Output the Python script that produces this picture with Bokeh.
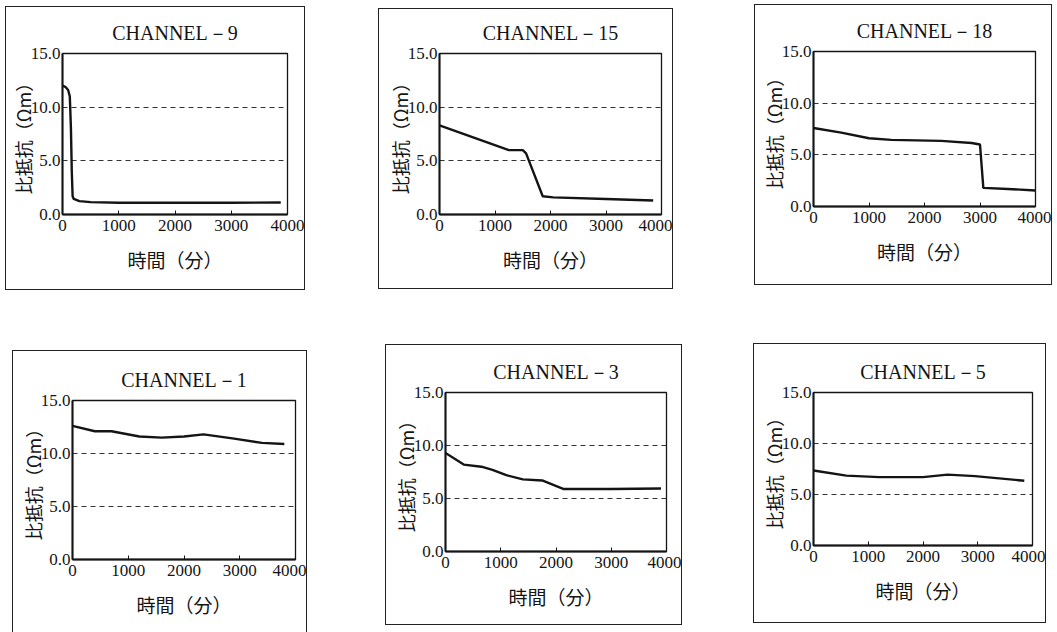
from bokeh.plotting import figure
from bokeh.layouts import row, column
from bokeh.models import Range1d, FixedTicker, NumeralTickFormatter, Spacer
from bokeh.embed import file_html
from bokeh.resources import INLINE

# Elapsed time (minutes) and resistivity (Ωm) for each channel
ch9_t = [0, 50, 100, 130, 150, 165, 180, 200, 300, 500, 1000, 2000, 3000, 3880]
ch9_v = [12.0, 11.9, 11.6, 11.0, 8.0, 4.0, 1.7, 1.45, 1.25, 1.15, 1.1, 1.1, 1.1, 1.12]

ch15_t = [0, 1250, 1500, 1560, 1860, 2050, 3000, 3850]
ch15_v = [8.3, 6.0, 6.0, 5.7, 1.7, 1.6, 1.45, 1.3]

ch18_t = [0, 500, 1000, 1400, 2300, 2850, 3000, 3060, 3500, 4000]
ch18_v = [7.6, 7.15, 6.6, 6.45, 6.35, 6.15, 6.0, 1.8, 1.7, 1.55]

ch1_t = [0, 400, 700, 1200, 1600, 2000, 2350, 2900, 3400, 3800]
ch1_v = [12.6, 12.1, 12.1, 11.6, 11.5, 11.6, 11.8, 11.4, 11.0, 10.9]

ch3_t = [0, 330, 650, 850, 1100, 1400, 1750, 2130, 3000, 3900]
ch3_v = [9.3, 8.2, 8.0, 7.7, 7.2, 6.8, 6.7, 5.9, 5.9, 5.95]

ch5_t = [0, 600, 1200, 2000, 2450, 2950, 3850]
ch5_v = [7.35, 6.85, 6.7, 6.7, 6.95, 6.8, 6.35]

x_ticks = [0, 1000, 2000, 3000, 4000]
y_ticks = [0, 5, 10, 15]
grid_levels = [5, 10]

SERIF = "Liberation Serif"
CJK = "Noto Sans CJK JP"
INK = "#141414"
BOX = "1px solid #222222"


def panel(title, t, v, fw, fh, bl, br, bt, bb, open_bottom=False):
    # bl/br/bt/bb are distances from the panel box edge to the plot frame;
    # the 1px box line itself sits outside the canvas
    box = {"border": BOX}
    if open_bottom:
        box["border-bottom"] = "none"
    p = figure(frame_width=fw, frame_height=fh,
               min_border_left=bl - 1, min_border_right=br - 1,
               min_border_top=bt - 1, min_border_bottom=bb - (0 if open_bottom else 1),
               x_range=Range1d(0, 4000), y_range=Range1d(0, 15),
               output_backend="svg", toolbar_location=None,
               background_fill_color="white", border_fill_color="white",
               styles=box)
    p.title.text = title
    p.title.align = "center"
    p.title.text_font = SERIF
    p.title.text_font_size = "20px"
    p.title.text_font_style = "normal"
    p.title.text_color = INK
    p.title.standoff = 20

    p.outline_line_color = INK
    p.outline_line_width = 1.3
    p.outline_line_alpha = 1

    for ax in (p.xaxis[0], p.yaxis[0]):
        ax.axis_line_color = INK
        ax.axis_line_width = 2
        ax.major_tick_line_color = INK
        ax.major_tick_in = 4
        ax.major_tick_out = 0
        ax.minor_tick_line_color = None
        ax.major_label_text_font = SERIF
        ax.major_label_text_font_size = "17px"
        ax.major_label_text_color = INK
        ax.axis_label_text_font = CJK
        ax.axis_label_text_font_style = "normal"
        ax.axis_label_text_color = INK

    p.xaxis.ticker = FixedTicker(ticks=x_ticks)
    p.xaxis.axis_label = "時間（分）"
    p.xaxis.axis_label_text_font_size = "19px"
    p.xaxis.major_label_standoff = 5
    p.xaxis.axis_label_standoff = 12

    p.yaxis.ticker = FixedTicker(ticks=y_ticks)
    p.yaxis.formatter = NumeralTickFormatter(format="0.0")
    p.yaxis.axis_label = "比抵抗（Ωm）"
    p.yaxis.axis_label_text_font_size = "18px"
    p.yaxis.major_label_standoff = 2
    p.yaxis.axis_label_standoff = -8
    p.yaxis.major_tick_in = 0

    p.xgrid.grid_line_color = None
    p.ygrid.ticker = FixedTicker(ticks=grid_levels)
    p.ygrid.grid_line_color = "#333333"
    p.ygrid.grid_line_width = 1
    p.ygrid.grid_line_dash = "5 4"

    p.line(t, v, line_color=INK, line_width=2.4)
    return p


f9 = panel("CHANNEL－9", ch9_t, ch9_v, 223, 159, 57, 20, 47, 78)
f15 = panel("CHANNEL－15", ch15_t, ch15_v, 220, 159, 61, 14, 45, 77)
f18 = panel("CHANNEL－18", ch18_t, ch18_v, 220, 153, 59, 19, 47, 81)
f1 = panel("CHANNEL－1", ch1_t, ch1_v, 221, 158, 60, 14, 50, 74, open_bottom=True)
f3 = panel("CHANNEL－3", ch3_t, ch3_v, 219, 157, 60, 18, 48, 76)
f5 = panel("CHANNEL－5", ch5_t, ch5_v, 217, 151, 60, 16, 49, 80)


def shifted(fig, dy):
    return column(Spacer(width=1, height=dy), fig, spacing=0) if dy else fig


top_row = row(Spacer(width=5, height=1), shifted(f9, 6), Spacer(width=73, height=1),
              shifted(f15, 8), Spacer(width=81, height=1), shifted(f18, 4), spacing=0)
bottom_row = row(Spacer(width=12, height=1), shifted(f1, 7), Spacer(width=78, height=1),
                 shifted(f3, 1), Spacer(width=71, height=1), f5, spacing=0)
page = column(top_row, Spacer(width=1, height=53), bottom_row, spacing=0)

open("out.html", "w").write(file_html(page, INLINE))
